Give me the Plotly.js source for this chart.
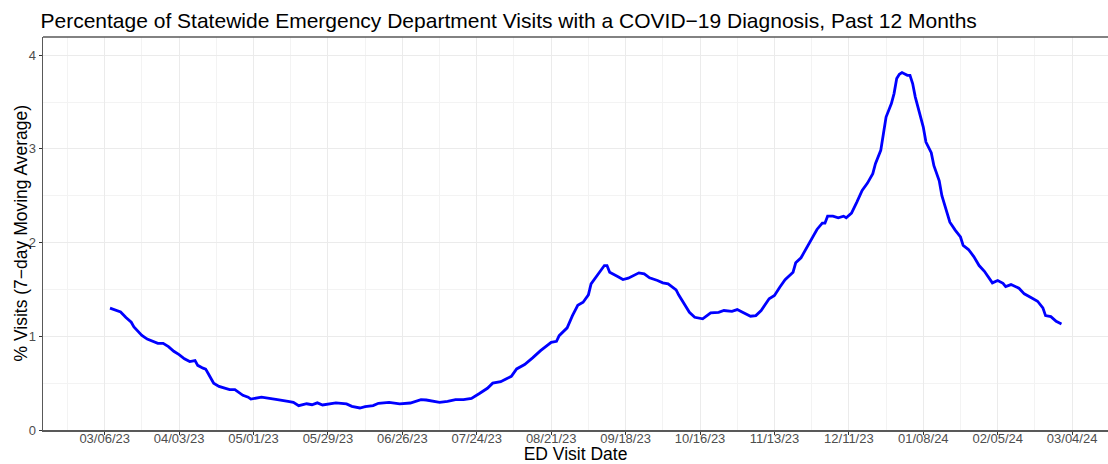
<!DOCTYPE html>
<html>
<head>
<meta charset="utf-8">
<script src="https://cdn.plot.ly/plotly-3.0.1.min.js"></script>
<style>html,body{margin:0;padding:0;background:#fff;}#chart{width:1108px;height:464px;}</style>
</head>
<body>
<div id="chart"></div>
<script>
// Values
var baseDate = "2023-03-06"; // first labelled tick
var dayOffsets = [2,6,8,10,11,12,14,16,18,20,22,24,26,28,30,32,34,35,37,38,39,41,43,45,47,49,52,54,55,59,62,65,69,71,73,76,78,80,82,85,87,91,93,96,98,101,103,107,111,115,119,121,126,129,132,135,138,141,144,146,149,151,153,155,158,161,164,168,170,171,174,176,178,180,182,183,185,187,188,189,190,193,195,197,200,201,203,205,208,210,212,214,215,216,218,220,222,225,227,228,231,233,236,238,240,243,245,247,250,252,254,256,259,260,262,264,266,268,270,271,272,274,276,278,279,281,283,285,287,289,290,292,293,294,296,297,298,299,300,302,303,304,305,307,308,309,311,312,314,315,317,318,320,322,323,325,327,329,331,333,334,336,338,339,341,344,346,349,351,353,354,356,358,360];
var pctVisits = [1.30,1.26,1.20,1.15,1.10,1.07,1.01,0.97,0.95,0.925,0.925,0.89,0.84,0.805,0.76,0.73,0.74,0.69,0.66,0.65,0.60,0.50,0.465,0.45,0.43,0.43,0.37,0.35,0.33,0.35,0.34,0.325,0.305,0.295,0.26,0.28,0.27,0.29,0.267,0.285,0.29,0.278,0.252,0.235,0.25,0.26,0.285,0.295,0.278,0.288,0.324,0.32,0.295,0.306,0.324,0.324,0.338,0.39,0.445,0.50,0.516,0.545,0.573,0.652,0.698,0.77,0.847,0.936,0.947,1.007,1.09,1.22,1.33,1.363,1.442,1.56,1.638,1.71,1.755,1.755,1.684,1.638,1.606,1.62,1.667,1.677,1.667,1.624,1.595,1.57,1.56,1.515,1.496,1.44,1.346,1.256,1.203,1.186,1.229,1.25,1.256,1.275,1.267,1.285,1.256,1.214,1.221,1.275,1.40,1.435,1.524,1.603,1.684,1.784,1.838,1.934,2.041,2.14,2.207,2.207,2.282,2.282,2.265,2.282,2.265,2.314,2.432,2.557,2.635,2.735,2.842,2.984,3.162,3.34,3.483,3.59,3.75,3.796,3.814,3.785,3.785,3.697,3.553,3.34,3.233,3.073,2.96,2.82,2.66,2.5,2.308,2.218,2.133,2.06,1.969,1.926,1.851,1.755,1.694,1.613,1.57,1.595,1.566,1.531,1.552,1.513,1.453,1.406,1.374,1.303,1.221,1.21,1.16,1.132];
var tickDates = ["2023-03-06","2023-04-03","2023-05-01","2023-05-29","2023-06-26","2023-07-24","2023-08-21","2023-09-18","2023-10-16","2023-11-13","2023-12-11","2024-01-08","2024-02-05","2024-03-04"];
var tickLabels = ["03/06/23","04/03/23","05/01/23","05/29/23","06/26/23","07/24/23","08/21/23","09/18/23","10/16/23","11/13/23","12/11/23","01/08/24","02/05/24","03/04/24"];
var yTicks = [0, 1, 2, 3, 4];
var yTickLabels = ["0", "1", "2", "3", "4"];

function addDays(iso, n) {
  var d = new Date(iso + "T00:00:00Z");
  d.setUTCDate(d.getUTCDate() + n);
  return d.toISOString().slice(0, 10);
}
var dates = dayOffsets.map(function (n) { return addDays(baseDate, n); });

var font = "Liberation Sans, Arial, sans-serif";
var W = 1108, L = 43, R = 0;
var trace = {
  x: dates, y: pctVisits, type: "scatter", mode: "lines",
  line: {color: "#0000FF", width: 2.8}, hoverinfo: "skip"
};
var layout = {
  width: W, height: 464,
  margin: {l: L, r: R, t: 37, b: 34},
  paper_bgcolor: "#ffffff", plot_bgcolor: "#ffffff",
  showlegend: false,
  font: {family: font, color: "#000"},
  title: {
    text: "Percentage of Statewide Emergency Department Visits with a COVID\u221219 Diagnosis, Past 12 Months",
    font: {family: font, size: 21, color: "#000"},
    x: 40.5 / W, xanchor: "left", xref: "container",
    y: 1 - 20.5 / 464, yanchor: "middle", yref: "container"
  },
  xaxis: {
    type: "date",
    range: ["2023-02-10 19:00", "2024-03-17 12:00"],
    tickmode: "array", tickvals: tickDates, ticktext: tickLabels,
    tickfont: {family: font, size: 13, color: "#4D4D4D"},
    ticks: "outside", ticklen: 3, tickcolor: "#333333", tickwidth: 1,
    ticklabelstandoff: -7,
    showgrid: true, gridcolor: "#EBEBEB", gridwidth: 1,
    minor: {tick0: "2023-02-20", dtick: 14 * 86400000, showgrid: true, gridcolor: "#F3F3F3", gridwidth: 1, ticks: ""},
    showline: true, linecolor: "#595959", linewidth: 1.5, mirror: false,
    zeroline: false,
    title: {text: "ED Visit Date", font: {family: font, size: 17.5, color: "#000"}, standoff: 11}
  },
  yaxis: {
    range: [0, 4.194],
    tickmode: "array", tickvals: yTicks, ticktext: yTickLabels,
    tickfont: {family: font, size: 13, color: "#4D4D4D"},
    ticks: "outside", ticklen: 3, tickcolor: "#333333", tickwidth: 1,
    showgrid: true, gridcolor: "#EBEBEB", gridwidth: 1,
    minor: {tick0: 0.5, dtick: 1, showgrid: true, gridcolor: "#F3F3F3", gridwidth: 1, ticks: ""},
    showline: true, linecolor: "#595959", linewidth: 1.5, mirror: false,
    zeroline: false
  },
  annotations: [{
    text: "% Visits (7\u2212day Moving Average)",
    font: {family: font, size: 17.5, color: "#000"},
    textangle: -90, showarrow: false,
    xref: "paper", yref: "paper",
    x: (20 - L) / (W - L - R), y: 0.5,
    xanchor: "center", yanchor: "middle"
  }],
  shapes: [{
    type: "line", xref: "paper", yref: "paper", x0: 0, x1: 1, y0: 1, y1: 1,
    line: {color: "#595959", width: 1.5}
  }]
};
Plotly.newPlot("chart", [trace], layout, {staticPlot: true, displayModeBar: false});
</script>
</body>
</html>
